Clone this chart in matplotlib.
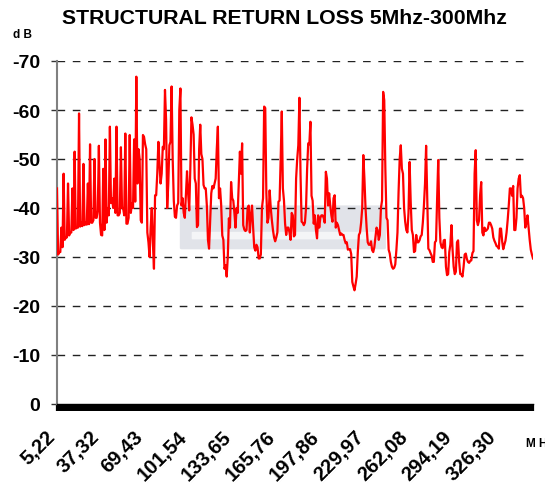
import numpy as np
import matplotlib
matplotlib.use('Agg')
from matplotlib import pyplot as plt
from matplotlib.patches import FancyBboxPatch
from matplotlib.transforms import ScaledTranslation

plt.rcParams['font.family'] = ['Liberation Sans', 'DejaVu Sans']
plt.rcParams['font.weight'] = 'bold'

# return loss trace (dB): even points ...
rl_even = [
    -44, -31, -36, -47, -34, -45, -35, -44, -51.5, -36,
    -59.3, -37, -49, -37, -45, -53, -37, -50, -38, -52.7,
    -34.5, -48, -54, -40, -56.6, -42, -46, -56.6, -38.5, -52.4,
    -40, -55.2, -36.8, -54.9, -41, -54, -66.8, -52, -37.5, -54.9,
    -53, -35, -30, -40, -27.6, -42.6, -53.5, -45, -52.5, -64.1,
    -40, -52.8, -64.8, -41.5, -38, -41, -64.4, -42, -38, -47.5,
    -39.5, -58.5, -55, -45, -36.5, -57, -50, -44, -40.5, -31.7,
    -43, -44, -46, -56.6, -44, -34.4, -27.6, -26, -37.9, -45.3,
    -41.5, -36, -39, -51.5, -53.2, -35.6, -35.5, -40.5, -38.5, -36,
    -31.3, -32, -29.7, -40, -60.7, -43, -38, -40, -35.5, -33.2,
    -35, -41.5, -59.7, -41.5, -34.5, -36, -33.5, -38.5, -34.5, -50,
    -62.5, -37.2, -36.5, -40, -53.2, -57.6, -41.5, -38.5, -33.8, -36,
    -38.5, -38, -47.4, -40.5, -40.5, -37.2, -42.6, -37, -35.5, -34.8,
    -34.5, -32.8, -31.5, -31.6, -24.9, -23.2, -26, -34.5, -37, -50.8,
    -40, -33, -32.5, -31.4, -32, -36, -33.5, -40, -63.7, -48,
    -37.5, -30.7, -28, -27.8, -31.4, -43.3, -52.8, -47, -37.2, -35,
    -49.4, -35.5, -31, -34.5, -33, -34.2, -37, -45, -42, -31.4,
    -30.3, -29, -33.3, -49.8, -33, -31.8, -33.5, -26.3, -31, -36.5,
    -28, -27, -33.4, -26.5, -26, -30.5, -29.6, -28.8, -29.3, -31.2,
    -51.8, -36.5, -42.6, -35, -36, -35.5, -37, -36.5, -34, -32.8,
    -32.1, -35.8, -33.2, -32.5, -35, -40.5, -44, -44.5, -35.5, -44,
    -46.7, -42.5, -40, -37, -36, -31.5, -29.7,
]
# ... and the odd points in between
rl_odd = [
    -30.5, -31, -32, -33.5, -34, -34.4, -35, -35.5, -35.8, -36,
    -36.2, -36.3, -36.5, -36.6, -36.7, -37, -37.5, -38, -39.5, -37,
    -34.4, -35.5, -37, -38.5, -41, -40, -39, -38.5, -39, -40,
    -38.5, -36.8, -38, -39, -40, -41.3, -45, -50, -37, -54.5,
    -52, -33, -36, -33, -42.6, -47, -49, -47, -52, -58,
    -45, -53.5, -50, -38.2, -40.5, -60, -40.5, -39, -42.6, -43,
    -48, -57, -46, -36.1, -52, -51, -44.7, -44, -33.5, -37.2,
    -44.5, -45, -52, -42, -40.6, -33.5, -28.3, -30, -36, -42,
    -39, -40, -45, -47, -36.5, -35.3, -40, -35, -40.5, -32,
    -32.5, -29.7, -30.5, -42, -60.4, -37, -43.6, -37.5, -34, -34,
    -41.3, -50, -44, -36.8, -36, -35, -39, -34.2, -46, -52.8,
    -47, -37, -37, -48, -53, -42.5, -36.8, -35.5, -38.5, -38,
    -38.5, -37, -46, -43, -38.5, -42, -36, -36.5, -34.5, -34.5,
    -33.5, -33, -31.6, -30.6, -24, -24.5, -31, -35, -40, -46,
    -36, -32.5, -33.2, -31, -34, -35.5, -34.5, -41.5, -62, -38,
    -31.5, -29, -27.6, -28.5, -35, -50, -48, -40, -35.5, -39,
    -41.3, -34.5, -31.2, -33, -33.4, -34.5, -40.5, -52.7, -31.7, -30.8,
    -29, -33, -42, -38, -32, -33.4, -28, -26.5, -32.5, -31.5,
    -26.5, -33, -29, -26.5, -28, -30.7, -29, -29.2, -30.8, -47,
    -37.5, -37.4, -45.3, -34.4, -35.3, -35.8, -37, -35.8, -33.3, -32.2,
    -31.7, -35.8, -31.6, -33.3, -37.5, -44, -42.5, -35.5, -38, -46,
    -42.2, -42, -36, -38.5, -33.5, -30.5,
]

freq_labels = ['5,22', '37,32', '69,43', '101,54', '133,65', '165,76',
               '197,86', '229,97', '262,08', '294,19', '326,30']
label_step = 40
y_ticks = [-70, -60, -50, -40, -30, -20, -10, 0]

return_loss = np.empty(len(rl_even) + len(rl_odd))
return_loss[0::2] = rl_even
return_loss[1::2] = rl_odd
idx = np.arange(len(return_loss))

fig = plt.figure(figsize=(5.45, 4.89), dpi=100)
ax = fig.add_axes([57/545, 1-405/489, 476/545, 343/489])

# faded logo watermark behind the trace
ax.add_patch(FancyBboxPatch((0.262, 0.455), 0.425, 0.12, boxstyle='round,pad=0.004',
                            transform=ax.transAxes, facecolor='#e1e3e9',
                            edgecolor='none', zorder=0))
ax.add_patch(FancyBboxPatch((0.285, 0.482), 0.39, 0.018, boxstyle='round,pad=0.002',
                            transform=ax.transAxes, facecolor='#f4f5f7',
                            edgecolor='none', zorder=0))

for v in y_ticks[:-1]:
    ax.axhline(v, xmin=0, xmax=0.988, color='#222222', lw=1.0,
               linestyle=(0, (5.5, 5.5)), zorder=1)

ax.plot(idx, return_loss, color='#ff0000', lw=1.6, zorder=3)

ax.set_xlim(0, len(return_loss) - 1)
ax.set_ylim(0, -70)
ax.set_yticks(y_ticks)
ax.set_yticklabels([str(v) for v in y_ticks], fontsize=14, fontweight='bold')

ax.set_xticks(idx[::label_step])
ax.set_xticks(idx, minor=True)
ax.tick_params(axis='x', which='both', direction='out', length=5.2, width=1.6,
               color='black', pad=16)
ax.tick_params(axis='y', direction='out', length=4, width=1, color='#333333', pad=8)

ax.set_xticklabels(freq_labels, rotation=45, ha='right', va='center',
                   rotation_mode='anchor', fontsize=14.5, fontweight='bold')
for lab in ax.get_xticklabels():
    lab.set_transform(lab.get_transform() + ScaledTranslation(-5/100, 0, fig.dpi_scale_trans))

ax.spines['top'].set_visible(False)
ax.spines['right'].set_visible(False)
ax.spines['left'].set_color('#808080')
ax.spines['left'].set_linewidth(1.5)
ax.spines['bottom'].set_color('black')
ax.spines['bottom'].set_linewidth(1.0)

fig.text(284/545, 1-19/489, 'STRUCTURAL RETURN LOSS 5Mhz-300Mhz', ha='center',
         va='center', fontsize=15.3, fontweight='bold')
fig.text(13/545, 1-35/489, 'd B', ha='left', va='center', fontsize=8.5, fontweight='bold')
fig.text(526/545, 1-444/489, 'M H z', ha='left', va='center', fontsize=8.5,
         fontweight='bold')

plt.savefig('out.png', dpi=100)
